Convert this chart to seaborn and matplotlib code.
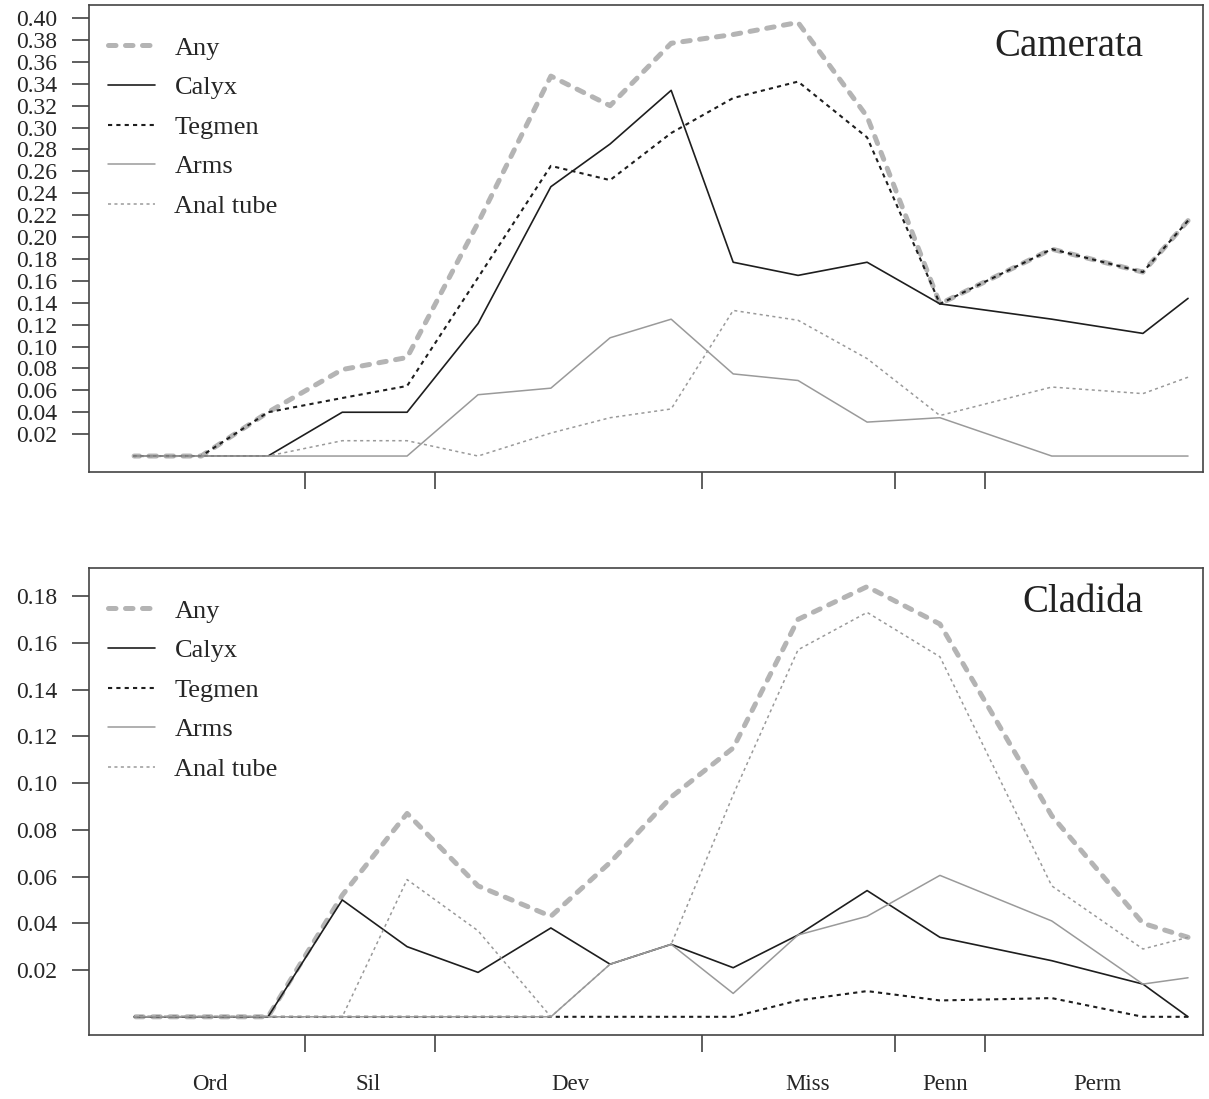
import pandas as pd
import matplotlib
matplotlib.use("Agg")
import matplotlib.pyplot as plt
import seaborn as sns

# Stage midpoints (Ma)
ages = [480.1, 465.8, 451.6, 435.8, 422.0, 406.9, 391.4, 378.8,
        365.8, 352.6, 338.8, 324.1, 308.6, 284.8, 265.4, 255.8]

# Period boundaries and labels
boundaries = [443.7, 416.0, 359.2, 318.1, 299.0]
period_names = ['Ord', 'Sil', 'Dev', 'Miss', 'Penn', 'Perm']
period_mid = [463.9, 430.3, 387.3, 336.7, 307.5, 275.0]

series_names = ['Any', 'Calyx', 'Tegmen', 'Arms', 'Anal tube']

# Camerata
cam_any = [0, 0, 0.040, 0.079, 0.090, 0.213, 0.347, 0.320, 0.377, 0.385, 0.396, 0.310, 0.139, 0.189, 0.168, 0.215]
cam_calyx = [0, 0, 0, 0.040, 0.040, 0.121, 0.246, 0.285, 0.334, 0.177, 0.165, 0.177, 0.139, 0.125, 0.112, 0.144]
cam_tegmen = [0, 0, 0.040, 0.053, 0.064, 0.163, 0.265, 0.252, 0.295, 0.327, 0.342, 0.291, 0.139, 0.189, 0.168, 0.215]
cam_arms = [0, 0, 0, 0, 0, 0.056, 0.062, 0.108, 0.125, 0.075, 0.069, 0.031, 0.035, 0, 0, 0]
cam_anal = [0, 0, 0, 0.014, 0.014, 0, 0.021, 0.035, 0.043, 0.133, 0.124, 0.089, 0.037, 0.063, 0.057, 0.072]

# Cladida
cla_any = [0, 0, 0, 0.052, 0.087, 0.056, 0.043, 0.066, 0.094, 0.115, 0.170, 0.184, 0.168, 0.086, 0.040, 0.034]
cla_calyx = [0, 0, 0, 0.050, 0.030, 0.019, 0.038, 0.0225, 0.031, 0.021, 0.035, 0.054, 0.034, 0.024, 0.014, 0]
cla_tegmen = [0, 0, 0, 0, 0, 0, 0, 0, 0, 0, 0.007, 0.011, 0.007, 0.008, 0, 0]
cla_arms = [0, 0, 0, 0, 0, 0, 0, 0.0225, 0.031, 0.010, 0.035, 0.043, 0.0605, 0.041, 0.014, 0.0167]
cla_anal = [0, 0, 0, 0, 0.0587, 0.0368, 0, 0.0225, 0.031, 0.095, 0.157, 0.173, 0.154, 0.056, 0.029, 0.034]

styles = {
    'Any': dict(color='#b4b4b4', lw=3.6, ls=(0, (1.5, 1.9)), dash_capstyle='round'),
    'Calyx': dict(color='#1e1e1e', lw=1.2, ls='-'),
    'Tegmen': dict(color='#1e1e1e', lw=1.5, ls=(0, (2, 2))),
    'Arms': dict(color='#9a9a9a', lw=1.1, ls='-'),
    'Anal tube': dict(color='#9a9a9a', lw=1.1, ls=(0, (2, 2.2))),
}

sns.set_style("ticks")
plt.rcParams['font.family'] = ['Liberation Serif', 'DejaVu Serif']

fig = plt.figure(figsize=(12.09, 10.99), dpi=100)
ax1 = fig.add_axes([0.0736, 0.5705, 0.9215, 0.425])
ax2 = fig.add_axes([0.0736, 0.0582, 0.9215, 0.425])

panels = [
    (ax1, 'Camerata', [cam_any, cam_calyx, cam_tegmen, cam_arms, cam_anal],
     [i / 100 for i in range(2, 41, 2)], (-0.0146, 0.412), 0.91),
    (ax2, 'Cladida', [cla_any, cla_calyx, cla_tegmen, cla_arms, cla_anal],
     [i / 100 for i in range(2, 19, 2)], (-0.0078, 0.192), 0.927),
]

for ax, title, values, yticks, ylim, title_y in panels:
    for name, vals in zip(series_names, values):
        st = styles[name]
        kw = dict(color=st['color'], linewidth=st['lw'], linestyle=st['ls'])
        if 'dash_capstyle' in st:
            kw['dash_capstyle'] = st['dash_capstyle']
        sns.lineplot(x=ages, y=vals, ax=ax, label=name, **kw)

    ax.set_xlim(489.7, 252.6)
    ax.set_ylim(*ylim)
    ax.set_yticks(yticks)
    ax.set_yticklabels([f'{t:.2f}' for t in yticks], fontsize=17)
    ax.set_xticks(boundaries)
    ax.set_xticklabels([])
    ax.tick_params(axis='both', which='major', length=12, width=1.1,
                   color='#333333', pad=11)
    for sp in ax.spines.values():
        sp.set_color('#444444')
        sp.set_linewidth(1.2)

    ax.text(0.946, title_y, title, transform=ax.transAxes, ha='right',
            va='center', fontsize=28, color='#222222')

    ax.legend(loc='upper left', bbox_to_anchor=(0.0175, 0.933), frameon=False,
              fontsize=19, handlelength=1.75, handletextpad=0.75,
              labelspacing=0.61, borderpad=0, borderaxespad=0)
    ax.set_xlabel('')
    ax.set_ylabel('')

# period names below the lower panel
ax2.set_xticks(period_mid, minor=True)
ax2.set_xticklabels(period_names, minor=True, fontsize=16.5)
ax2.tick_params(axis='x', which='minor', length=0, pad=28)

fig.savefig('out.png', dpi=100)
